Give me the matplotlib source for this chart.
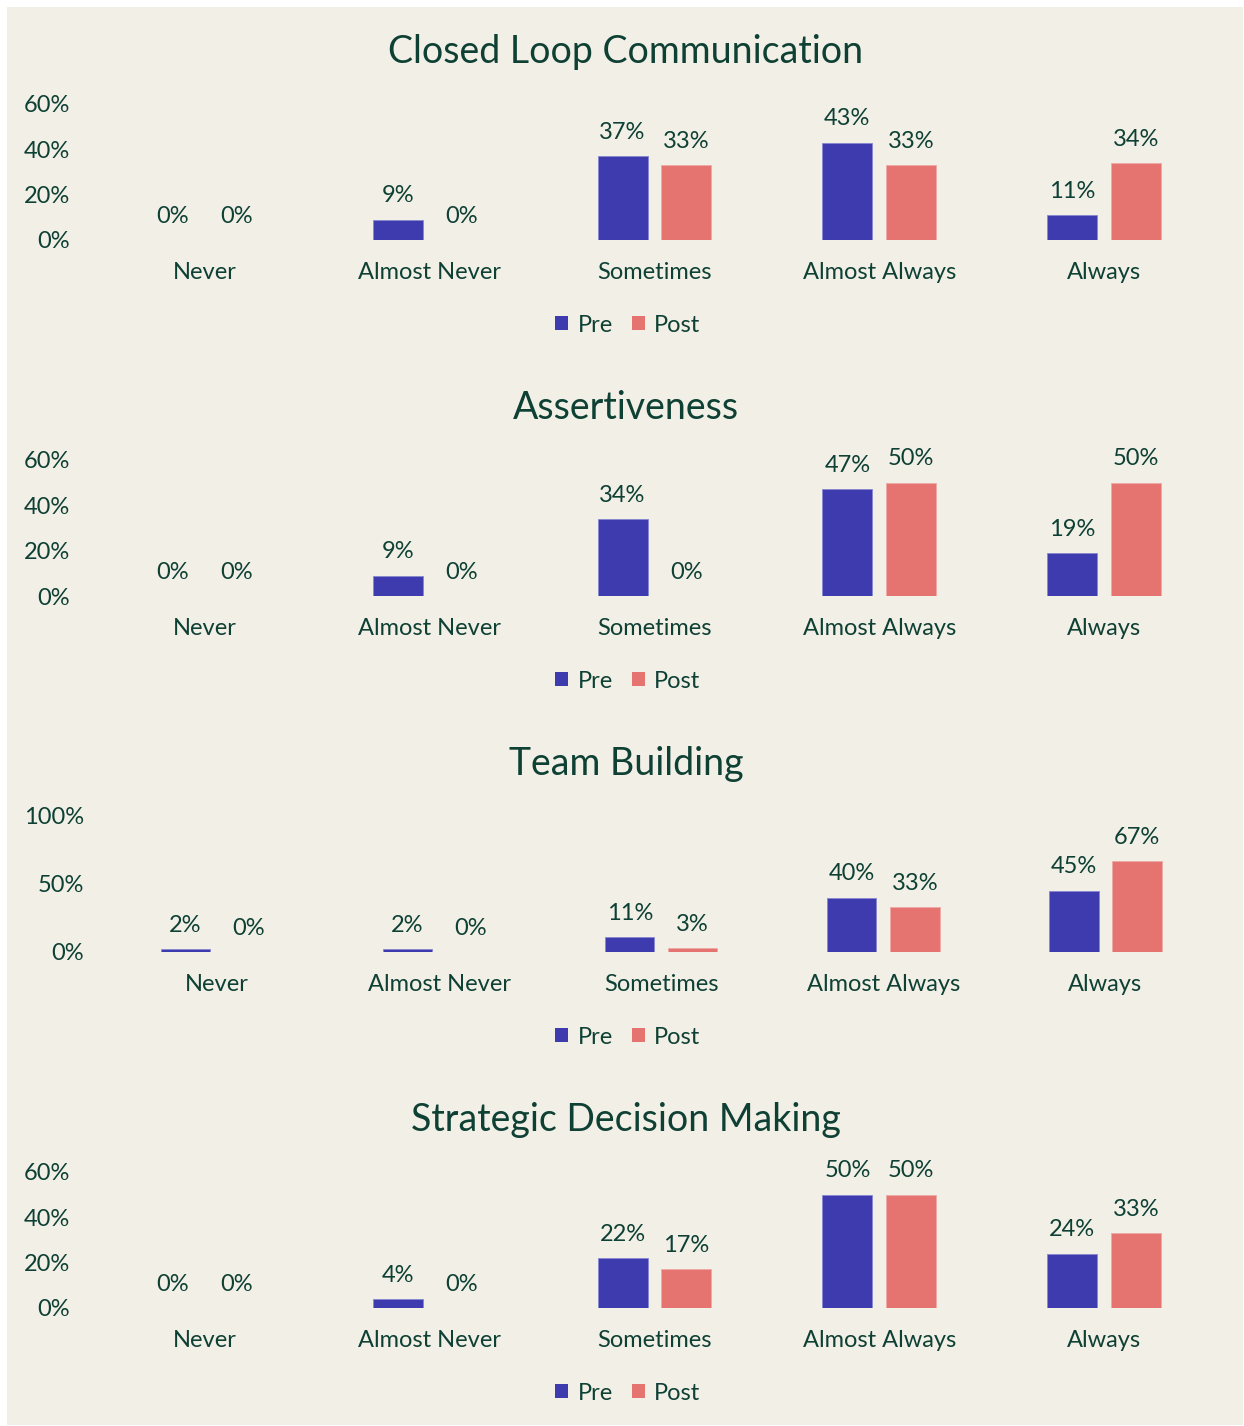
import matplotlib
matplotlib.use("Agg")
import matplotlib.pyplot as plt
from matplotlib.patches import Patch, Rectangle

# survey answers, share of respondents in %
categories = ["Never", "Almost Never", "Sometimes", "Almost Always", "Always"]
titles = ["Closed Loop Communication", "Assertiveness", "Team Building",
          "Strategic Decision Making"]

pre_clc = [0, 9, 37, 43, 11]
post_clc = [0, 0, 33, 33, 34]
pre_assert = [0, 9, 34, 47, 19]
post_assert = [0, 0, 0, 50, 50]
pre_team = [2, 2, 11, 40, 45]
post_team = [0, 0, 3, 33, 67]
pre_sdm = [0, 4, 22, 50, 24]
post_sdm = [0, 0, 17, 50, 33]

pre_all = [pre_clc, pre_assert, pre_team, pre_sdm]
post_all = [post_clc, post_assert, post_team, post_sdm]
y_max = [60, 60, 100, 60]
y_step = [20, 20, 50, 20]

BG = "#F2EFE7"
TXT = "#0E4034"
PRE = "#3E3BAE"
POST = "#E5736F"
FONT = "Lato"
FS = 17

W, H = 1244, 1426
plt.rcParams['font.family'] = [FONT, 'DejaVu Sans']

def fx(px):
    return px / W

def fy(py):
    return 1 - py / H

fig = plt.figure(figsize=(W / 100, H / 100), dpi=100, facecolor="white")
fig.patches.append(Rectangle((fx(7), fy(1425)), fx(1243) - fx(7), fy(7) - fy(1425),
                             transform=fig.transFigure, facecolor=BG, edgecolor="none", zorder=-5))

bw = 0.222
off = 0.142
for k in range(4):
    dy = 356 * k
    left = 106 if y_max[k] == 100 else 92.5
    right = 1216.5
    top, bottom = 104 + dy, 240 + dy
    ax = fig.add_axes([fx(left), fy(bottom), fx(right) - fx(left), fy(top) - fy(bottom)])
    ax.set_facecolor("none")
    xs = range(len(categories))
    pre = pre_all[k]
    post = post_all[k]
    ax.bar([x - off for x in xs], pre, bw, color=PRE, edgecolor="#8886D0", linewidth=0.6)
    ax.bar([x + off for x in xs], post, bw, color=POST, edgecolor="#EFA9A6", linewidth=0.6)
    for x, v in zip(xs, pre):
        ax.annotate(f"{v}%", (x - off, v), xytext=(0, 12.5), textcoords="offset points",
                    ha="center", va="baseline", fontsize=FS, color=TXT, annotation_clip=False)
    for x, v in zip(xs, post):
        ax.annotate(f"{v}%", (x + off, v), xytext=(0, 12.5), textcoords="offset points",
                    ha="center", va="baseline", fontsize=FS, color=TXT, annotation_clip=False)
    ax.set_xlim(-0.5, len(categories) - 0.5)
    ax.set_ylim(0, y_max[k])
    ax.set_yticks(range(0, y_max[k] + 1, y_step[k]))
    ax.set_yticklabels([f"{t}%" for t in range(0, y_max[k] + 1, y_step[k])])
    ax.set_xticks(list(xs))
    ax.set_xticklabels(categories)
    ax.tick_params(axis="both", length=0, labelsize=FS, labelcolor=TXT)
    ax.tick_params(axis="x", pad=16)
    ax.tick_params(axis="y", pad=16)
    for s in ax.spines.values():
        s.set_visible(False)

    fig.text(fx(626), fy(52 + dy), titles[k], ha="center", va="center",
             fontsize=27, color=TXT)
    handles = [Patch(facecolor=PRE, label="Pre"), Patch(facecolor=POST, label="Post")]
    fig.legend(handles=handles, loc="center", bbox_to_anchor=(fx(628), fy(325 + dy)),
               ncol=2, frameon=False, fontsize=FS, labelcolor=TXT,
               handlelength=0.55, handleheight=0.55, handletextpad=0.4, columnspacing=0.8)

fig.savefig("out.png", dpi=100, facecolor="white")
